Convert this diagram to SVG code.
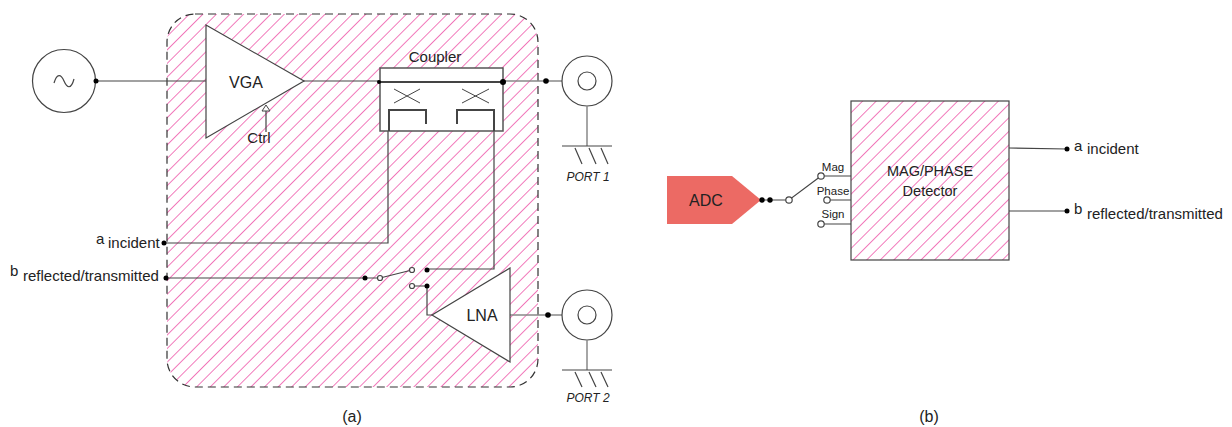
<svg xmlns="http://www.w3.org/2000/svg" width="1232" height="427" viewBox="0 0 1232 427">
<style>
text{font-family:"Liberation Sans",Arial,sans-serif;fill:#222}
.w{fill:none;stroke:#444;stroke-width:1.2}
.x{fill:none;stroke:#444;stroke-width:1}
.t{fill:none;stroke:#444;stroke-width:2}
.g{fill:none;stroke:#888;stroke-width:1.5}
.n{fill:#fff;stroke:#444;stroke-width:1.2}
.d{fill:#000}
.o{fill:#fff;stroke:#444;stroke-width:1.2}
</style>
<defs>
<pattern id="h" width="9.6" height="9.6" patternUnits="userSpaceOnUse" patternTransform="rotate(45 167 14)">
<rect width="9.6" height="9.6" fill="#fff"/>
<line x1="0" y1="0" x2="0" y2="9.6" stroke="#ee4fa5" stroke-width="1.500"/>
</pattern>
</defs>
<g id="panel-a"><rect x="167" y="14" width="371" height="373" rx="28" fill="url(#h)" stroke="#333" stroke-width="1.2" stroke-dasharray="8 5"/></g>
<g id="connectors">
<path class="w" d="M96 81H206"/>
<path class="w" d="M303 81H380"/>
<path class="t" d="M380 81.500H503"/>
<path class="g" d="M503 81H562"/>
<path class="w" d="M388 131V243H164"/>
<path class="w" d="M494 131V269H427"/>
<path class="w" d="M166 278H380L412 270"/>
<path class="w" d="M412 286H427V315H432"/>
<path class="g" d="M510 315H562"/>
<path class="w" d="M1009 148L1067 149"/>
<path class="w" d="M1009 211H1067"/>
<path class="w" d="M760 200H789L821 176"/>
<path class="w" d="M821 176H851M827 200H851M821 224H851"/>
</g>
<g id="source"><circle cx="64" cy="81" r="31.500" class="n"/><path class="w" d="M54 83C57 73 61 74 64 81S71 90 74 79"/><circle class="d" cx="96" cy="81" r="2.500"/></g>
<g id="vga"><polygon points="206,25 304,81 206,138" class="n"/><text x="246" y="88" font-size="16" text-anchor="middle">VGA</text>
<path class="w" d="M266 132V111"/><polygon points="266,105 270,111 262,111" fill="#fff" stroke="#444"/><text x="259" y="143" font-size="15" text-anchor="middle">Ctrl</text></g>
<g id="coupler">
<rect x="380" y="68" width="123" height="63" fill="#fff" stroke="#555" stroke-width="1.500"/>
<path class="t" d="M380 82H503"/>
<path class="x" d="M394 89L420 103M394 103L420 89M462 103L489 89M462 89L489 103"/>
<path class="t" d="M389 131V110H426V124M457 124V110H494V131"/>
<circle class="d" cx="379" cy="82" r="2"/><circle class="d" cx="503" cy="82" r="3"/>
<text x="435" y="62" font-size="15" text-anchor="middle">Coupler</text></g>
<g id="port1"><circle class="d" cx="546" cy="81" r="2.800"/><circle cx="587" cy="81" r="25" class="n"/><circle cx="587" cy="81" r="9" class="n"/>
<path class="g" d="M587 106V146"/><path class="w" d="M562 146H612M575 148L582 164M589 148L596 164M601 148L608 164"/><text x="588" y="181" font-size="12" font-style="italic" text-anchor="middle">PORT 1</text></g>
<g id="port2"><circle class="d" cx="548" cy="315" r="2.800"/><circle cx="587" cy="315" r="25" class="n"/><circle cx="587" cy="315" r="9" class="n"/>
<path class="g" d="M587 340V370"/><path class="w" d="M562 370H612M575 372L582 387M589 372L596 387M601 372L608 387"/><text x="588" y="402" font-size="12" font-style="italic" text-anchor="middle">PORT 2</text></g>
<g id="lna"><polygon points="510,268 432,315 510,362" class="n"/><text x="482" y="321" font-size="16" text-anchor="middle">LNA</text></g>
<g id="switch-a"><circle class="d" cx="365" cy="278" r="2.500"/><circle class="o" cx="380" cy="278" r="2.500"/><circle class="o" cx="412" cy="270" r="2.500"/><circle class="d" cx="427" cy="270" r="2.500"/><circle class="o" cx="412" cy="286" r="2.500"/><circle class="d" cx="427" cy="286" r="2.500"/></g>
<g id="label-a-incident"><circle class="d" cx="164" cy="243" r="2.500"/><text x="96" y="244" font-size="15">a</text><text x="108" y="248" font-size="15">incident</text></g>
<g id="label-b-reflected"><circle class="d" cx="166" cy="278" r="2.500"/><text x="10" y="276" font-size="15">b</text><text x="23" y="281" font-size="15">reflected/transmitted</text></g>
<g id="caption-a"><text x="352" y="422" font-size="16" text-anchor="middle">(a)</text></g>
<g id="adc"><polygon points="667,176 732,176 761,200 732,224 667,224" fill="#ec6a64"/><text x="706" y="206" font-size="16" text-anchor="middle">ADC</text></g>
<g id="switch-b"><circle class="d" cx="762" cy="200" r="2.700"/><circle class="d" cx="770" cy="200" r="2.700"/><circle class="o" cx="789" cy="200" r="3.200"/><circle class="o" cx="821" cy="176" r="3.200"/><circle class="o" cx="827" cy="200" r="3.200"/><circle class="o" cx="821" cy="224" r="3.200"/>
<text x="833" y="171" font-size="11.500" text-anchor="middle">Mag</text><text x="833" y="195" font-size="11.500" text-anchor="middle">Phase</text><text x="833" y="218" font-size="11.500" text-anchor="middle">Sign</text></g>
<g id="detector"><rect x="851" y="101" width="158" height="159" fill="url(#h)" stroke="#444" stroke-width="1.200"/><text x="930" y="176" font-size="14.500" text-anchor="middle">MAG/PHASE</text><text x="930" y="196" font-size="14.500" text-anchor="middle">Detector</text></g>
<g id="output-a"><circle class="d" cx="1067" cy="149" r="2.500"/><text x="1074" y="151" font-size="15">a</text><text x="1087" y="154" font-size="15">incident</text></g>
<g id="output-b"><circle class="d" cx="1067" cy="211" r="2.500"/><text x="1074" y="214" font-size="15">b</text><text x="1087" y="219" font-size="15">reflected/transmitted</text></g>
<g id="caption-b"><text x="929" y="422" font-size="16" text-anchor="middle">(b)</text></g>
</svg>
